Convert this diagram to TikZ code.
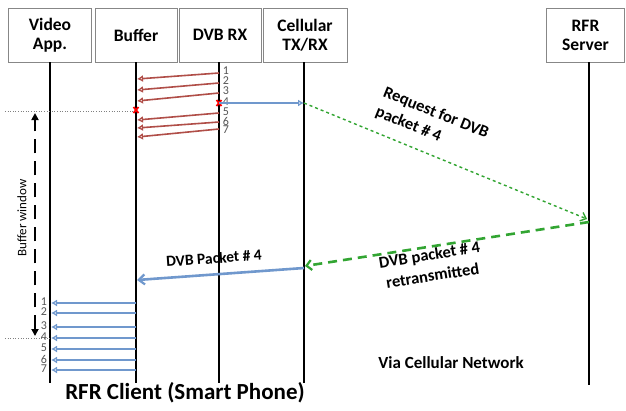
\documentclass[tikz,border=0pt]{standalone}
\usepackage{fontspec}
\setmainfont{Carlito}
\usetikzlibrary{arrows.meta,calc}
\definecolor{redarr}{RGB}{176,78,72}
\definecolor{bluearr}{RGB}{112,152,205}
\definecolor{greenarr}{RGB}{50,165,50}
\definecolor{boxgray}{RGB}{135,135,135}
\definecolor{numgray}{RGB}{85,85,85}
\tikzset{
  hdr/.style={draw=boxgray, line width=1pt, fill=white, minimum height=54pt, align=center, inner sep=0pt,
              font=\bfseries\fontsize{17.5}{19}\selectfont},
  life/.style={line width=1.5pt, black},
  redmsg/.style={draw=redarr, line width=1.6pt, -{Latex[length=6pt,width=7pt,open,line width=1.2pt]}},
  bluemsg/.style={draw=bluearr, line width=1.8pt, -{Latex[length=6pt,width=7pt,open,line width=1.2pt]}},
  bigblue/.style={draw=bluearr, line width=2.6pt, -{Straight Barb[length=6pt,width=10pt,line width=2.2pt]}},
  reqline/.style={draw=greenarr, line width=1.4pt, dash pattern=on 3pt off 3pt, -{Straight Barb[length=5pt,width=9pt,line width=1.4pt]}},
  retline/.style={draw=greenarr, line width=2.6pt, dash pattern=on 9pt off 6pt, -{Straight Barb[length=5pt,width=10pt,line width=2.2pt]}},
  num/.style={text=numgray, font=\fontsize{12}{12}\selectfont, inner sep=0pt},
  lbl/.style={font=\bfseries\fontsize{16.5}{21}\selectfont, inner sep=0pt},
  lossmark/.style={draw=red, line width=1.8pt},
  guide/.style={draw=gray, line width=0.6pt, dotted}
}
\begin{document}
\begin{tikzpicture}[x=1pt,y=-1pt]
\useasboundingbox[fill=white] (0,0) rectangle (626,410);

% header boxes
\node[hdr, minimum width=83pt] (va) at (50,35) {Video\\App.};
\node[hdr, minimum width=82pt] (buf) at (136,35) {Buffer};
\node[hdr, minimum width=82pt] (dvb) at (220,35) {DVB RX};
\node[hdr, minimum width=84pt] (cell) at (305,35) {Cellular\\TX/RX};
\node[hdr, minimum width=78pt] (srv) at (585.5,35) {RFR\\Server};

% lifelines
\coordinate (vaT) at (50,62);   \coordinate (vaB) at (50,383);
\coordinate (bufT) at (136,62); \coordinate (bufB) at (136,383);
\coordinate (dvbT) at (219,62); \coordinate (dvbB) at (219,383);
\coordinate (cellT) at (304,62);\coordinate (cellB) at (304,383);
\coordinate (srvT) at (589,62); \coordinate (srvB) at (589,385);
\draw[life] (vaT) -- (vaB);
\draw[life] (bufT) -- (bufB);
\draw[life] (dvbT) -- (dvbB);
\draw[life] (cellT) -- (cellB);
\draw[life] (srvT) -- (srvB);

% guide lines
\coordinate (g1a) at (5,111); \coordinate (g1b) at (136,111);
\coordinate (g2a) at (5,338); \coordinate (g2b) at (50,338);
\draw[guide] (g1a) -- (g1b);
\draw[guide] (g2a) -- (g2b);

% DVB broadcast packets to buffer
\foreach \i/\ys/\ye in {1/73/79, 2/83/90, 3/93/101, 5/113/120, 6/122/128, 7/129/137}{
  \coordinate (rs\i) at (219,\ys);
  \coordinate (re\i) at (137,\ye);
  \draw[redmsg] (rs\i) -- (re\i);
}
\foreach \i/\y in {1/71, 2/81, 3/91, 4/102, 5/112, 6/121, 7/130}{
  \node[num] (n\i) at (226,\y) {\i};
}
% lost packet marks
\coordinate (lossA) at (219,103);
\coordinate (lossB) at (136,110);
\draw[lossmark] ($(lossA)+(-2.5,-3)$) -- ($(lossA)+(2.5,3)$);
\draw[lossmark] ($(lossA)+(-2.5,3)$) -- ($(lossA)+(2.5,-3)$);
\draw[lossmark] ($(lossB)+(-2.5,-3)$) -- ($(lossB)+(2.5,3)$);
\draw[lossmark] ($(lossB)+(-2.5,3)$) -- ($(lossB)+(2.5,-3)$);

% request
\coordinate (cellReq) at (304,103);
\draw[bluemsg] (lossA) -- (cellReq);
\coordinate (srvReq) at (587,219);
\draw[reqline] (cellReq) -- (srvReq);
\node[lbl, rotate=-22, align=left] (reqlbl) at (432,123) {Request for DVB\\packet \# 4};

% retransmission
\coordinate (srvRet) at (589,222);
\coordinate (cellRet) at (305,266);
\draw[retline] (srvRet) -- (cellRet);
\node[lbl, rotate=9, align=center] (retlbl) at (431,265) {DVB packet \# 4\\retransmitted};

\coordinate (cellFwd) at (304,268);
\coordinate (bufFwd) at (137,280);
\draw[bigblue] (cellFwd) -- (bufFwd);
\node[lbl, rotate=4, font=\bfseries\fontsize{15.5}{17}\selectfont] (fwdlbl) at (214,258) {DVB Packet \# 4};

% buffer to video app
\foreach \i/\y in {1/303, 2/313, 3/327, 4/338, 5/349, 6/360, 7/370}{
  \coordinate (bs\i) at (136,\y);
  \coordinate (be\i) at (51,\y);
  \draw[bluemsg, line width=1.4pt] (bs\i) -- (be\i);
  \node[num] (m\i) at (44,\y-1) {\i};
}

% buffer window
\coordinate (bwT) at (35,113);
\coordinate (bwB) at (35,336);
\draw[line width=2.2pt, dash pattern=on 14pt off 8pt, {Triangle[length=7pt,width=7pt]}-{Triangle[length=7pt,width=7pt]}] (bwB) -- (bwT);
\node[rotate=90, font=\fontsize{13}{13}\selectfont] (bwl) at (22,218) {Buffer window};

% captions
\node[font=\bfseries\fontsize{23}{26}\selectfont] (client) at (185,393) {RFR Client (Smart Phone)};
\node[font=\bfseries\fontsize{17}{19}\selectfont] (via) at (451,363) {Via Cellular Network};
\end{tikzpicture}
\end{document}
